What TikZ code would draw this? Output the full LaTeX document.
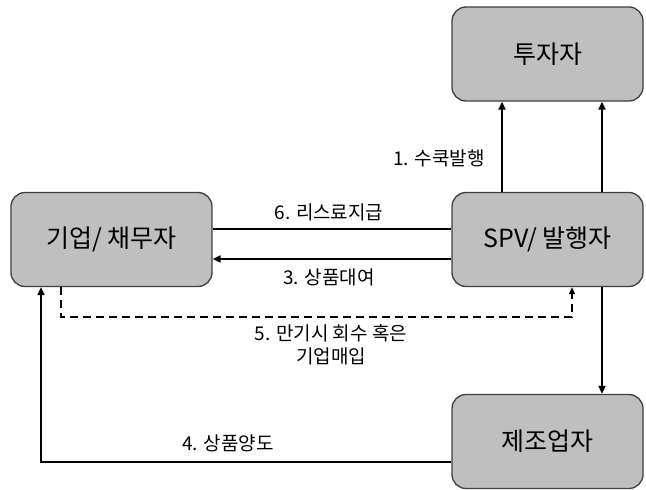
\documentclass[tikz,border=0pt]{standalone}
\usepackage{fontspec}
\setmainfont{Noto Sans CJK KR}
\usetikzlibrary{arrows.meta,calc}
\begin{document}
\begin{tikzpicture}[x=1pt,y=-1pt,
  box/.style={draw=black!75, line width=1.3pt, fill=black!25, rounded corners=14pt,
    minimum width=191pt, minimum height=94pt, inner sep=0pt, font=\fontsize{25}{29}\selectfont},
  conn/.style={line width=1.8pt, draw=black},
  tip/.style={-{Triangle[length=8pt,width=7pt]}},
  lbl/.style={font=\fontsize{19}{23}\selectfont, inner sep=0pt, align=center}]
\useasboundingbox (0,0) rectangle (646,490);
\node[box] (inv) at (547.5,54) {투자자};
\node[box] (spv) at (547.5,239.5) {SPV/ 발행자};
\node[box, minimum width=201pt] (corp) at (111.5,239.5) {기업/ 채무자};
\node[box] (mfr) at (547.5,441.5) {제조업자};
% SPV -> investor
\draw[conn,tip] ([xshift=-45.5pt]spv.north) -- ([xshift=-45.5pt]inv.south);
\draw[conn,tip] ([xshift=54.5pt]spv.north) -- ([xshift=54.5pt]inv.south);
% 6 and 3
\draw[conn] ([yshift=10.5pt]corp.east) -- ([yshift=10.5pt]spv.west);
\draw[conn,tip] ([yshift=-19.5pt]spv.west) -- ([yshift=-19.5pt]corp.east);
% dashed 5
\coordinate (d1) at (61,317);
\coordinate (d2) at (572,317);
\draw[conn,dashed,dash pattern=on 8pt off 5pt,line width=1.6pt,-{Triangle[length=7pt,width=6pt]}]
  ([xshift=-50.5pt]corp.south) -- (d1) -- (d2) -- ([xshift=24.5pt]spv.south);
% SPV -> manufacturer
\draw[conn,tip] ([xshift=54.5pt]spv.south) -- ([xshift=54.5pt]mfr.north);
% manufacturer -> corp
\coordinate (m1) at (41,462);
\draw[conn,tip] ([yshift=-20.5pt]mfr.west) -- (m1) -- (m1 |- corp.south);
% labels
\node[lbl] (l1) at (439,158) {1. 수쿡발행};
\node[lbl] (l6) at (329,212) {6. 리스료지급};
\node[lbl] (l3) at (329,277) {3. 상품대여};
\node[lbl] (l5) at (331,345) {5. 만기시 회수 혹은\\기업매입};
\node[lbl] (l4) at (228,443) {4. 상품양도};
\end{tikzpicture}
\end{document}
